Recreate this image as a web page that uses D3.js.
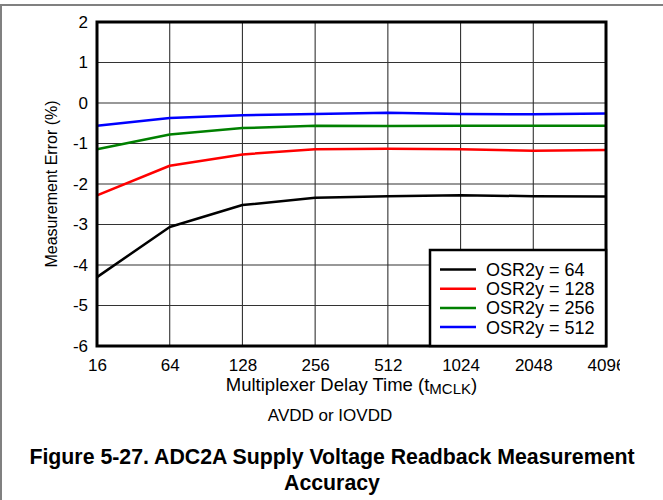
<!DOCTYPE html>
<html><head><meta charset="utf-8">
<script src="https://cdn.jsdelivr.net/npm/d3@7"></script>
<style>body{margin:0;background:#fff}svg{display:block;font-family:"Liberation Sans",Arial,sans-serif}</style>
</head><body><svg id="c" width="663" height="500"></svg>
<script>
const categories = ["16","64","128","256","512","1024","2048","4096"];
const seriesNames = ["OSR2y = 64","OSR2y = 128","OSR2y = 256","OSR2y = 512"];
const seriesColors = ["#000000","#ff0000","#008000","#0000ff"];
const osr64  = [-4.30,-3.06,-2.52,-2.34,-2.30,-2.28,-2.30,-2.31];
const osr128 = [-2.28,-1.55,-1.27,-1.14,-1.13,-1.14,-1.18,-1.16];
const osr256 = [-1.14,-0.78,-0.62,-0.56,-0.57,-0.56,-0.56,-0.56];
const osr512 = [-0.56,-0.37,-0.30,-0.27,-0.24,-0.27,-0.28,-0.26];
const yTicks = [2,1,0,-1,-2,-3,-4,-5,-6];
const series = [osr64,osr128,osr256,osr512];

const svg = d3.select("#c");
const L=97,R=606,T=22,B=346;
const x = d3.scalePoint().domain(categories).range([L,R]);
const y = d3.scaleLinear().domain([-6,2]).range([B,T]);

// outer frame
svg.append("path").attr("d","M1,500 L1,5 L663,5").attr("fill","none").attr("stroke","#808080").attr("stroke-width",2);

// grid
const g = svg.append("g");
g.selectAll(".vg").data(categories).enter().append("line")
  .attr("x1",d=>x(d)).attr("x2",d=>x(d)).attr("y1",T).attr("y2",B)
  .attr("stroke","#333").attr("stroke-width",1.1);
g.selectAll(".hg").data(yTicks).enter().append("line")
  .attr("x1",L).attr("x2",R).attr("y1",d=>y(d)).attr("y2",d=>y(d))
  .attr("stroke","#333").attr("stroke-width",1.1);

// lines
const line = d3.line().x((d,i)=>x(categories[i])).y(d=>y(d));
series.forEach((s,k)=>{
  svg.append("path").datum(s).attr("d",line).attr("fill","none")
    .attr("stroke",seriesColors[k]).attr("stroke-width",2.5).attr("stroke-linejoin","round");
});

// plot border
svg.append("rect").attr("x",L).attr("y",T).attr("width",R-L).attr("height",B-T)
  .attr("fill","none").attr("stroke","#000").attr("stroke-width",3);

// axes (text only)
const yAxis = svg.append("g").attr("transform",`translate(${L},0)`)
  .call(d3.axisLeft(y).tickValues(yTicks).tickSize(0).tickPadding(9).tickFormat(d=>d<0?"-"+Math.abs(d):d));
yAxis.select(".domain").remove();
yAxis.selectAll("text").attr("font-size",17).attr("font-family","Liberation Sans, Arial").attr("fill","#000");

svg.append("clipPath").attr("id","xclip").append("rect").attr("x",0).attr("y",340).attr("width",620).attr("height",40);
const xWrap = svg.append("g").attr("clip-path","url(#xclip)");
const xAxis = xWrap.append("g").attr("transform",`translate(0,${B})`)
  .call(d3.axisBottom(x).tickSize(0).tickPadding(13));
xAxis.select(".domain").remove();
xAxis.selectAll("text").attr("font-size",17).attr("font-family","Liberation Sans, Arial").attr("fill","#000");

// axis titles
svg.append("text").attr("transform","translate(57,184) rotate(-90)").attr("text-anchor","middle")
  .attr("font-size",16).text("Measurement Error (%)");
const xt = svg.append("text").attr("x",351.5).attr("y",390.5).attr("text-anchor","middle").attr("font-size",18.5);
xt.append("tspan").text("Multiplexer Delay Time (t");
xt.append("tspan").attr("font-size",15).attr("dy",3).text("MCLK");
xt.append("tspan").attr("dy",-3).text(")");

svg.append("text").attr("x",330).attr("y",421).attr("text-anchor","middle").attr("font-size",17).text("AVDD or IOVDD");
svg.append("text").attr("x",332).attr("y",463.5).attr("text-anchor","middle").attr("font-size",21.3).attr("font-weight","bold")
  .text("Figure 5-27. ADC2A Supply Voltage Readback Measurement");
svg.append("text").attr("x",332).attr("y",489.5).attr("text-anchor","middle").attr("font-size",21.3).attr("font-weight","bold")
  .text("Accuracy");

// legend
const lg = svg.append("g");
lg.append("rect").attr("x",430).attr("y",250).attr("width",R-430).attr("height",B-250)
  .attr("fill","#fff").attr("stroke","#000").attr("stroke-width",2.5);
seriesNames.forEach((n,k)=>{
  const yy = 269.5 + k*19.2;
  lg.append("line").attr("x1",440).attr("x2",476).attr("y1",yy).attr("y2",yy)
    .attr("stroke",seriesColors[k]).attr("stroke-width",2.5);
  lg.append("text").attr("x",486).attr("y",yy+6.4).attr("font-size",18).text(n);
});
</script></body></html>
